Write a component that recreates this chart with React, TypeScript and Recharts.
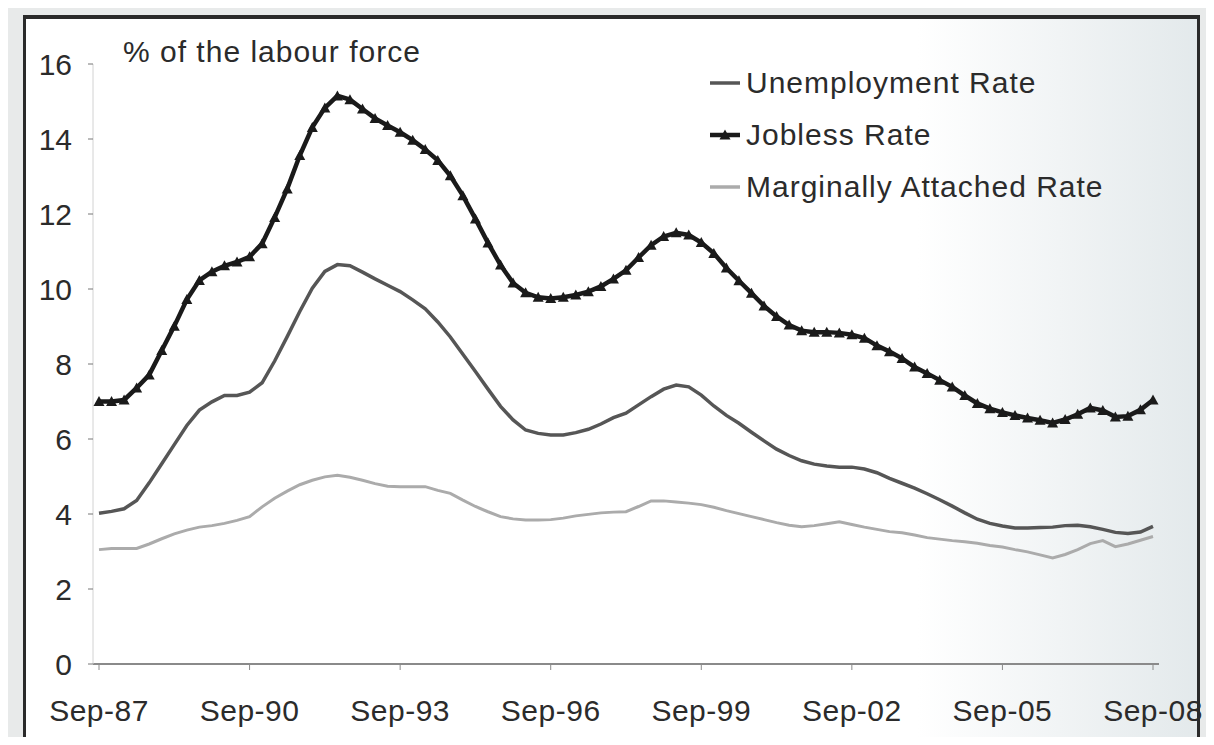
import React from "react";
import { LineChart, Line, XAxis, YAxis, Legend } from "recharts";

// quarterly, Sep-87 .. Sep-08
const QUARTER_MONTHS = ["Sep", "Dec", "Mar", "Jun"];
const quarters = Array.from({ length: 85 }, (_, i) => {
  const yr = (1987 + Math.floor((i + 2) / 4)) % 100;
  return `${QUARTER_MONTHS[i % 4]}-${String(yr).padStart(2, "0")}`;
});

const xTicks = ["Sep-87", "Sep-90", "Sep-93", "Sep-96", "Sep-99", "Sep-02", "Sep-05", "Sep-08"];
const yTicks = [0, 2, 4, 6, 8, 10, 12, 14, 16];
const legendOrder = ["Unemployment Rate", "Jobless Rate", "Marginally Attached Rate"];

const unemployment = [
  4.02, 4.07, 4.14, 4.36, 4.83, 5.34, 5.85, 6.36, 6.77, 6.99,
  7.16, 7.16, 7.25, 7.5, 8.08, 8.73, 9.4, 10.02, 10.47, 10.65,
  10.62, 10.45, 10.27, 10.1, 9.93, 9.71, 9.47, 9.12, 8.72, 8.26,
  7.8, 7.33, 6.87, 6.51, 6.24, 6.15, 6.11, 6.11, 6.17, 6.26,
  6.4, 6.57, 6.69, 6.91, 7.13, 7.33, 7.44, 7.39, 7.17, 6.88,
  6.63, 6.42, 6.18, 5.95, 5.73, 5.56, 5.42, 5.33, 5.28, 5.25,
  5.25, 5.2, 5.1, 4.95, 4.82, 4.69, 4.54, 4.38, 4.21, 4.03,
  3.86, 3.75, 3.68, 3.63, 3.63, 3.64, 3.65, 3.69, 3.7, 3.66,
  3.59, 3.51, 3.48, 3.52, 3.67,
];

const jobless = [
  7.0, 7.0, 7.04, 7.36, 7.71, 8.36, 9.01, 9.72, 10.23, 10.46,
  10.62, 10.72, 10.86, 11.21, 11.91, 12.67, 13.56, 14.31, 14.83, 15.15,
  15.05, 14.8, 14.55, 14.36, 14.18, 13.97, 13.72, 13.43, 13.02, 12.49,
  11.87, 11.23, 10.64, 10.16, 9.9, 9.78, 9.75, 9.78, 9.84, 9.93,
  10.07, 10.27, 10.5, 10.84, 11.17, 11.4, 11.5, 11.44, 11.24, 10.95,
  10.56, 10.22, 9.89, 9.55, 9.27, 9.04, 8.89, 8.85, 8.85, 8.83,
  8.78, 8.69, 8.49, 8.33, 8.15, 7.92, 7.75, 7.57, 7.39, 7.16,
  6.95, 6.81, 6.71, 6.63, 6.56, 6.5, 6.43, 6.52, 6.66, 6.83,
  6.76, 6.59, 6.61, 6.78, 7.04,
];

const marginal = [
  3.05, 3.08, 3.08, 3.08, 3.2, 3.34, 3.47, 3.57, 3.65, 3.69,
  3.75, 3.83, 3.93, 4.19, 4.42, 4.61, 4.78, 4.9, 4.99, 5.03,
  4.98, 4.9, 4.81, 4.74, 4.73, 4.73, 4.73, 4.63, 4.55, 4.37,
  4.2, 4.06, 3.93, 3.87, 3.84, 3.84, 3.85, 3.89, 3.95, 3.99,
  4.03, 4.05, 4.06, 4.2, 4.35, 4.35, 4.32, 4.29, 4.25, 4.18,
  4.09, 4.01, 3.93, 3.85, 3.77, 3.7, 3.66, 3.69, 3.74, 3.79,
  3.72, 3.65, 3.59, 3.53, 3.5, 3.44, 3.37, 3.33, 3.29, 3.26,
  3.22, 3.16, 3.12, 3.05, 2.99, 2.91, 2.83, 2.92, 3.05, 3.21,
  3.29, 3.13, 3.2, 3.3, 3.4,
];

const FONT = '"Liberation Sans", Arial, sans-serif';
const TEXT = "#2b2b2b";

const data = quarters.map((q, i) => ({
  q,
  unemployment: unemployment[i],
  jobless: jobless[i],
  marginal: marginal[i],
}));

function Triangle({ cx, cy, fill = "#1a1a1a" }: any) {
  if (cx == null || cy == null) return null;
  return (
    <polygon
      points={`${cx - 5.5},${cy + 4.5} ${cx + 5.5},${cy + 4.5} ${cx},${cy - 5.5}`}
      fill={fill}
    />
  );
}

function renderLegend(props: any) {
  const items = [...(props.payload || [])].sort(
    (a: any, b: any) => legendOrder.indexOf(a.value) - legendOrder.indexOf(b.value)
  );
  return (
    <div
      style={{
        fontFamily: FONT,
        fontSize: 30,
        color: TEXT,
        textAlign: "left",
        letterSpacing: 1,
      }}
    >
      {items.map((entry: any) => (
        <div
          key={entry.value}
          style={{ display: "flex", alignItems: "center", height: 52 }}
        >
          <svg width={36} height={20} style={{ marginRight: 2 }}>
            <line
              x1={2}
              y1={10}
              x2={32}
              y2={10}
              stroke={entry.color}
              strokeWidth={entry.value === "Jobless Rate" ? 4.5 : 3.5}
            />
            {entry.value === "Jobless Rate" && <Triangle cx={17} cy={10} />}
          </svg>
          <span>{entry.value}</span>
        </div>
      ))}
    </div>
  );
}

export default function App() {
  return (
    <div
      style={{
        position: "relative",
        width: 1214,
        height: 745,
        margin: -8,
        background: "#e8eaea",
        overflow: "hidden",
      }}
    >
      <div
        style={{
          position: "absolute",
          left: 23,
          top: 15,
          width: 1177,
          height: 728,
          background: "linear-gradient(to right, #ffffff 0%, #ffffff 76%, #e3e9eb 100%)",
        }}
      />
      <div
        style={{
          position: "absolute",
          left: 123,
          top: 36,
          fontFamily: FONT,
          fontSize: 30,
          color: TEXT,
          lineHeight: "32px",
          letterSpacing: 1,
          zIndex: 2,
        }}
      >
        % of the labour force
      </div>
      <div style={{ position: "absolute", left: 0, top: 0, zIndex: 1 }}>
        <LineChart
          width={1214}
          height={745}
          data={data}
          margin={{ top: 64, right: 55, left: 23, bottom: 31 }}
        >
          <XAxis
            dataKey="q"
            ticks={xTicks}
            interval={0}
            padding={{ left: 6, right: 6 }}
            axisLine={{ stroke: "#8a8a8a", strokeWidth: 2 }}
            tickLine={{ stroke: "#8a8a8a" }}
            tickSize={6}
            tickMargin={30}
            height={50}
            tick={{ fontSize: 30, fill: TEXT, fontFamily: FONT, letterSpacing: 0.5 } as any}
          />
          <YAxis
            domain={[0, 16]}
            ticks={yTicks}
            width={70}
            axisLine={{ stroke: "#d2d2d2", strokeWidth: 1 }}
            tickLine={{ stroke: "#777" }}
            tickSize={5}
            tickMargin={16}
            tick={{ fontSize: 30, fill: TEXT, fontFamily: FONT }}
          />
          <Legend
            content={renderLegend}
            layout="vertical"
            verticalAlign="middle"
            align="center"
            wrapperStyle={{ left: 708, top: 57, width: 480 }}
          />
          <Line
            type="linear"
            dataKey="unemployment"
            name="Unemployment Rate"
            stroke="#565656"
            strokeWidth={3.5}
            dot={false}
            isAnimationActive={false}
          />
          <Line
            type="linear"
            dataKey="jobless"
            name="Jobless Rate"
            stroke="#1a1a1a"
            strokeWidth={4.5}
            dot={(p: any) => <Triangle key={`t-${p.index}`} cx={p.cx} cy={p.cy} />}
            isAnimationActive={false}
          />
          <Line
            type="linear"
            dataKey="marginal"
            name="Marginally Attached Rate"
            stroke="#ababab"
            strokeWidth={3}
            dot={false}
            isAnimationActive={false}
          />
        </LineChart>
      </div>
      <div
        style={{
          position: "absolute",
          left: 23,
          top: 15,
          width: 1177,
          height: 728,
          boxSizing: "border-box",
          borderLeft: "3px solid #2a2a2a",
          borderRight: "3px solid #2a2a2a",
          borderTop: "4px solid #2a2a2a",
          borderBottom: "3px solid #2a2a2a",
          zIndex: 3,
          pointerEvents: "none",
        }}
      />
    </div>
  );
}
